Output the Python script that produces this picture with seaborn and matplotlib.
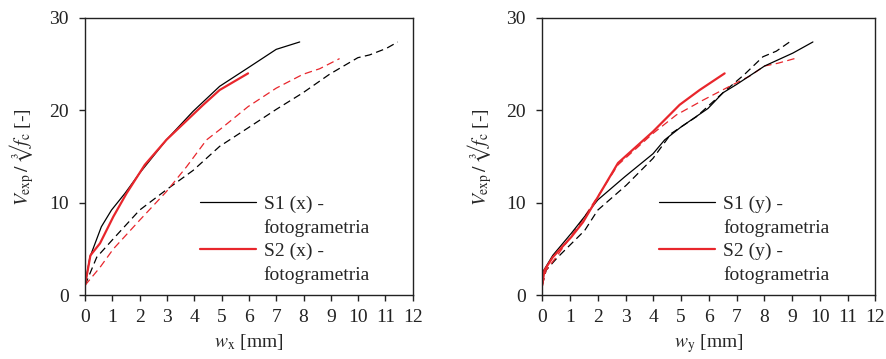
import numpy as np
import pandas as pd
import matplotlib
matplotlib.use('Agg')
import matplotlib.pyplot as plt
import seaborn as sns
from matplotlib.lines import Line2D

# ---------------------------------------------------------------
# Data (w in mm, V_exp / cbrt(fc) in [-])
# Left panel - x direction
s1x_w = [0, 0.18, 0.6, 0.97, 1.46, 2.0, 2.98, 3.96, 4.93, 5.97, 7.0, 7.86]
s1x_v = [1.05, 4.1, 7.4, 9.2, 11.0, 13.2, 16.8, 19.9, 22.6, 24.6, 26.6, 27.4]
s2x_w = [0, 0.2, 0.55, 1.04, 1.52, 2.19, 2.98, 4.33, 4.93, 5.97]
s2x_v = [1.05, 4.3, 5.6, 8.5, 11.0, 14.1, 16.8, 20.6, 22.2, 24.0]
s1x_dash_w = [0, 0.43, 1.04, 2.0, 2.98, 3.96, 4.93, 5.97, 7.0, 7.98, 8.95, 9.99, 10.42, 11.03, 11.45]
s1x_dash_v = [1.05, 4.1, 6.1, 9.2, 11.4, 13.5, 16.1, 18.1, 20.1, 21.9, 23.9, 25.7, 26.0, 26.7, 27.4]
s2x_dash_w = [0, 0.55, 1.04, 2.0, 2.98, 3.72, 4.45, 4.93, 5.97, 7.0, 7.98, 8.59, 9.32]
s2x_dash_v = [1.05, 3.0, 5.0, 8.1, 11.2, 13.9, 16.8, 17.9, 20.4, 22.4, 23.9, 24.5, 25.6]

# Right panel - y direction
s1y_w = [0, 0.02, 0.38, 1.05, 2.0, 2.97, 3.99, 4.41, 5.0, 5.97, 6.51, 7.0, 8.01, 9.03, 9.75]
s1y_v = [1.6, 2.5, 4.3, 6.7, 10.3, 12.8, 15.3, 16.8, 18.2, 20.2, 21.9, 22.8, 24.8, 26.2, 27.4]
s2y_w = [0, 0.08, 0.38, 1.05, 1.47, 2.0, 2.73, 3.99, 4.95, 5.67, 6.57]
s2y_v = [1.05, 2.7, 4.1, 6.3, 7.9, 10.6, 14.3, 17.7, 20.6, 22.2, 24.0]
s1y_dash_w = [0, 0.14, 0.56, 1.53, 2.0, 3.03, 3.99, 4.65, 5.55, 6.51, 7.29, 7.95, 8.43, 8.91]
s1y_dash_v = [1.05, 2.7, 4.1, 7.0, 9.2, 11.9, 14.8, 17.5, 19.3, 21.9, 23.9, 25.8, 26.4, 27.4]
s2y_dash_w = [0, 0.14, 0.5, 1.35, 2.07, 2.73, 3.99, 4.83, 5.79, 6.75, 7.47, 8.01, 8.49, 9.09]
s2y_dash_v = [1.05, 2.7, 4.1, 7.7, 11.0, 14.1, 17.5, 19.5, 21.1, 22.6, 23.7, 24.8, 25.1, 25.6]

x_ticks = list(range(0, 13))
y_ticks = [0, 10, 20, 30]
red = '#e8262c'
# ---------------------------------------------------------------

sns.set_style('ticks')
plt.rcParams['font.family'] = ['Liberation Serif', 'DejaVu Serif']
plt.rcParams['mathtext.fontset'] = 'stix'
fs = 14

fig = plt.figure(figsize=(8.86, 3.59), dpi=100)
ax1 = fig.add_axes([0.0959, 0.178, 0.370, 0.772])
ax2 = fig.add_axes([0.612, 0.178, 0.376, 0.772])


def draw_panel(ax, s1w, s1v, s2w, s2v, d1w, d1v, d2w, d2v, axis_name):
    sns.lineplot(x=d1w, y=d1v, ax=ax, sort=False, color='black', lw=0.9, linestyle=(0, (6, 3.5)))
    sns.lineplot(x=d2w, y=d2v, ax=ax, sort=False, color=red, lw=0.9, linestyle=(0, (6, 3.5)))
    sns.lineplot(x=s1w, y=s1v, ax=ax, sort=False, color='black', lw=0.9)
    sns.lineplot(x=s2w, y=s2v, ax=ax, sort=False, color=red, lw=1.6)
    ax.set_xlim(0, 12)
    ax.set_ylim(0, 30)
    ax.set_xticks(x_ticks)
    ax.set_yticks(y_ticks)
    ax.tick_params(direction='out', length=4.3, width=1.0, labelsize=fs, colors='#222222')
    ax.tick_params(axis='y', pad=7.5)
    ax.tick_params(axis='x', pad=6)
    for sp in ax.spines.values():
        sp.set_linewidth(1.0)
        sp.set_color('#222222')
    ax.set_xlabel(r'$w_\mathrm{%s}$ [mm]' % axis_name, fontsize=fs, labelpad=4)
    ax.set_ylabel(r'$V_\mathrm{exp}\,/\,∛f_\mathrm{c}$ [-]', fontsize=fs, labelpad=9)
    blank = Line2D([], [], color='none')
    handles = [Line2D([], [], color='black', lw=0.9), blank,
               Line2D([], [], color=red, lw=1.6), blank]
    labels = ['S1 (%s) -' % axis_name, 'fotogrametria', 'S2 (%s) -' % axis_name, 'fotogrametria']
    ax.legend(handles, labels, loc='upper left', bbox_to_anchor=(0.35, 0.36), frameon=False,
              handlelength=2.9, handletextpad=0.4, labelspacing=0.3, borderpad=0,
              borderaxespad=0, fontsize=fs)


draw_panel(ax1, s1x_w, s1x_v, s2x_w, s2x_v, s1x_dash_w, s1x_dash_v, s2x_dash_w, s2x_dash_v, 'x')
draw_panel(ax2, s1y_w, s1y_v, s2y_w, s2y_v, s1y_dash_w, s1y_dash_v, s2y_dash_w, s2y_dash_v, 'y')

fig.savefig('out.png', dpi=100)
